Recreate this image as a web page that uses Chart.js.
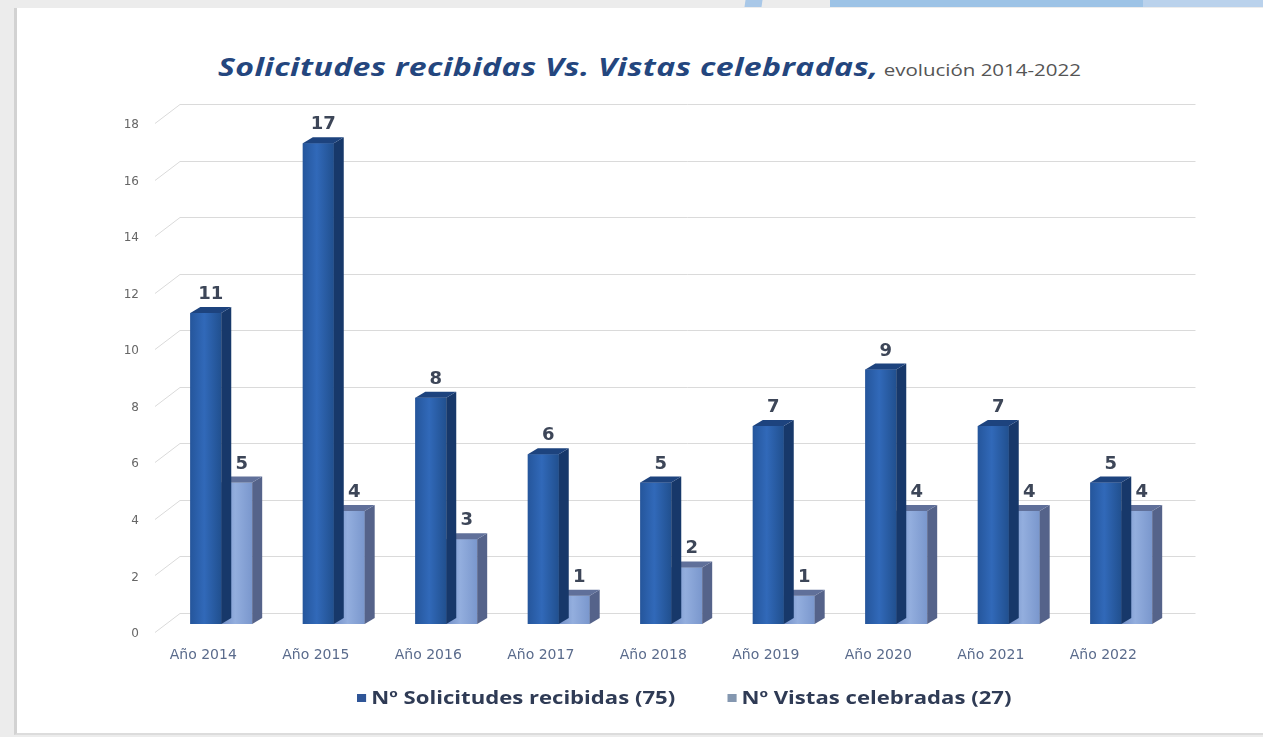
<!DOCTYPE html>
<html>
<head>
<meta charset="utf-8">
<script src="https://cdn.jsdelivr.net/npm/chart.js@4.4.1/dist/chart.umd.min.js"></script>
<style>
  html, body { margin: 0; padding: 0; }
  body { width: 1263px; height: 737px; background: #ececec; position: relative; overflow: hidden; font-family: "Open Sans", "Liberation Sans", sans-serif; }
  .band { position: absolute; top: 0; height: 7px; }
  #card { position: absolute; left: 14px; top: 8px; width: 1249px; height: 725px; background: #fff; border-left: 3px solid #d2d2d2; border-bottom: 2px solid #dcdcdc; }
  #title { position: absolute; left: 218px; top: 49px; white-space: nowrap; color: #24467e; transform: scaleX(1.28); transform-origin: 0 0; }
  #title b { font-size: 25px; font-style: italic; font-weight: 700; letter-spacing: 0.3px; }
  #title span { font-size: 16px; color: #555; margin-left: 4px; }
  #legend { position: absolute; top: 686px; left: 357px; white-space: nowrap; font-size: 17px; font-weight: 700; color: #2f3b55; transform: scaleX(1.3); transform-origin: 0 0; }
  #legend i { display: inline-block; width: 7px; height: 8px; margin-right: 4px; vertical-align: 2px; }
  #wrap { position: absolute; left: 0; top: 0; width: 1263px; height: 737px; }
</style>
</head>
<body>
<div class="band" style="left:745px;width:17px;background:#a9c8e8;transform:skewX(-8deg)"></div>
<div class="band" style="left:830px;width:313px;background:#9dc3e6;"></div>
<div class="band" style="left:1143px;width:120px;background:#bad2ec;"></div>
<div id="card"></div>
<div id="title"><b>Solicitudes recibidas Vs. Vistas celebradas,</b><span>evolución 2014-2022</span></div>
<div id="wrap"><canvas id="chart" width="1263" height="737"></canvas></div>
<div id="legend"><i style="background:#2f5597"></i>Nº Solicitudes recibidas (75)<span style="display:inline-block;width:40px"></span><i style="background:#8497b0"></i>Nº Vistas celebradas (27)</div>
<script>
const categories = ['Año 2014', 'Año 2015', 'Año 2016', 'Año 2017', 'Año 2018', 'Año 2019', 'Año 2020', 'Año 2021', 'Año 2022'];
const solicitudes = [11, 17, 8, 6, 5, 7, 9, 7, 5];
const vistas = [5, 4, 3, 1, 2, 1, 4, 4, 4];
const seriesNames = ['Nº Solicitudes recibidas (75)', 'Nº Vistas celebradas (27)'];
const yTicks = [0, 2, 4, 6, 8, 10, 12, 14, 16, 18];

const DX = 10, DY = 6;
const faces = [
  { front: ['#25569c', '#3169b9', '#21508f'], side: '#17386a', top: '#1d437e' },
  { front: ['#718ec6', '#93aede', '#7a97cd'], side: '#55638a', top: '#60709a' }
];

// back wall grid lines, drawn in fake perspective
const backGrid = {
  id: 'backGrid',
  beforeDatasetsDraw(chart) {
    const { ctx, chartArea, scales } = chart;
    ctx.save();
    ctx.strokeStyle = '#dadada';
    ctx.lineWidth = 1;
    yTicks.forEach(v => {
      const y = Math.round(scales.y.getPixelForValue(v)) + 0.5;
      ctx.beginPath();
      ctx.moveTo(chartArea.left - 10, y + 8);
      ctx.lineTo(chartArea.left + 15, y - 11);
      ctx.lineTo(chartArea.right + 18, y - 11);
      ctx.stroke();
    });
    ctx.restore();
  }
};

// side and top faces, plus shaded front
const bars3d = {
  id: 'bars3d',
  afterDatasetDraw(chart, args) {
    const { ctx } = chart;
    const f = faces[args.index];
    ctx.save();
    args.meta.data.forEach(el => {
      const l = el.x - el.width / 2, r = el.x + el.width / 2;
      const t = el.y, b = el.base;
      const g = ctx.createLinearGradient(l, 0, r, 0);
      g.addColorStop(0, f.front[0]);
      g.addColorStop(0.45, f.front[1]);
      g.addColorStop(1, f.front[2]);
      ctx.fillStyle = g;
      ctx.fillRect(l, t, r - l, b - t);
      ctx.fillStyle = f.side;
      ctx.beginPath();
      ctx.moveTo(r, t);
      ctx.lineTo(r + DX, t - DY);
      ctx.lineTo(r + DX, b - DY);
      ctx.lineTo(r, b);
      ctx.closePath();
      ctx.fill();
      ctx.fillStyle = f.top;
      ctx.beginPath();
      ctx.moveTo(l, t);
      ctx.lineTo(l + DX, t - DY);
      ctx.lineTo(r + DX, t - DY);
      ctx.lineTo(r, t);
      ctx.closePath();
      ctx.fill();
    });
    ctx.restore();
  },
  afterDatasetsDraw(chart) {
    const { ctx } = chart;
    ctx.save();
    ctx.font = 'bold 18px "DejaVu Sans", sans-serif';
    ctx.fillStyle = '#3d4658';
    ctx.textAlign = 'center';
    ctx.textBaseline = 'alphabetic';
    chart.data.datasets.forEach((ds, i) => {
      chart.getDatasetMeta(i).data.forEach((el, j) => {
        ctx.fillText(ds.data[j], el.x + DX / 2, el.y - DY - 8);
      });
    });
    ctx.restore();
  }
};

new Chart(document.getElementById('chart'), {
  type: 'bar',
  data: {
    labels: categories,
    datasets: [
      { label: seriesNames[0], data: solicitudes, backgroundColor: '#2f5597', borderWidth: 0 },
      { label: seriesNames[1], data: vistas, backgroundColor: '#8497b0', borderWidth: 0 }
    ]
  },
  options: {
    responsive: false,
    animation: false,
    layout: { padding: { top: 115, bottom: 53, left: 120, right: 85.5 } },
    datasets: { bar: { categoryPercentage: 0.55, barPercentage: 1.0 } },
    plugins: {
      legend: { display: false },
      title: { display: false },
      tooltip: { enabled: false }
    },
    scales: {
      x: {
        grid: { display: false, drawTicks: false },
        border: { display: false },
        afterFit(scale) { scale.height = 60; },
        ticks: { color: '#5a6b8c', font: { size: 14, family: '"DejaVu Sans", sans-serif' }, padding: 23, labelOffset: -18, maxRotation: 0 }
      },
      y: {
        min: 0,
        max: 18,
        grid: { display: false, drawTicks: false },
        border: { display: false },
        afterFit(scale) { scale.width = 45; },
        afterBuildTicks(scale) { scale.ticks = yTicks.map(v => ({ value: v })); },
        ticks: { color: '#666', font: { size: 12, family: '"DejaVu Sans", sans-serif' }, padding: 26, labelOffset: 10 }
      }
    }
  },
  plugins: [backGrid, bars3d]
});
</script>
</body>
</html>
